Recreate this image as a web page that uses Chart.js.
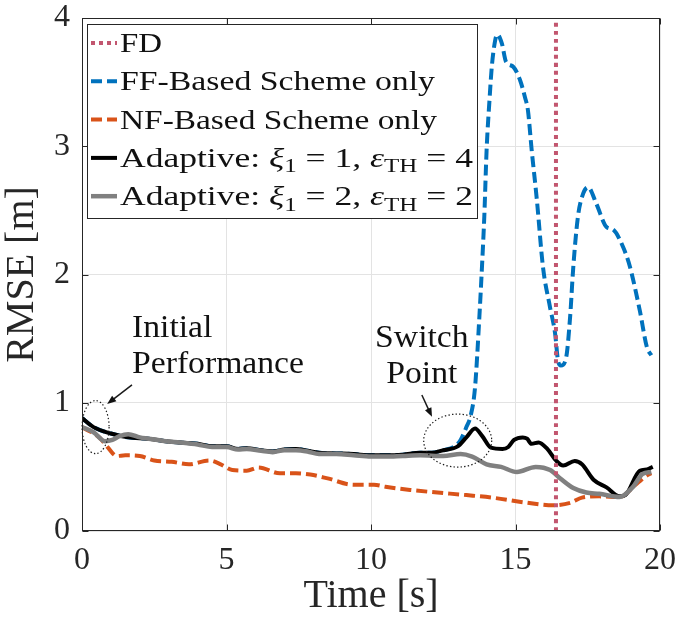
<!DOCTYPE html>
<html>
<head>
<meta charset="utf-8">
<script src="https://cdn.jsdelivr.net/npm/chart.js@4.4.1/dist/chart.umd.min.js"></script>
<style>
  body { margin: 0; background: #fff; }
  canvas { display: block; }
</style>
</head>
<body>
<canvas id="rmse" width="678" height="622"></canvas>
<script>
// values: time [s] and RMSE [m]
const fdTime = [16.4, 16.4];
const fdRmse = [0, 4];

const ffTime = [0, 0.4, 1.0, 1.6, 2.3, 2.9, 3.4, 4.0, 4.5, 5.0, 5.4, 5.7, 6.2, 6.6, 7.0, 7.4, 7.8, 8.2, 8.8, 9.4, 10.0, 10.5, 11.1, 11.7, 12.1, 12.5, 12.9, 13.1, 13.3, 13.45, 13.6, 13.75, 13.84, 13.92, 14.0, 14.1, 14.18, 14.3, 14.37, 14.53, 14.67, 14.92, 15.15, 15.33, 15.43, 15.56, 15.74, 15.95, 16.19, 16.37, 16.47, 16.57, 16.75, 16.89, 17.0, 17.16, 17.34, 17.51, 17.8, 18.15, 18.38, 18.73, 18.96, 19.3, 19.55, 19.7];
const ffRmse = [0.88, 0.81, 0.76, 0.73, 0.72, 0.70, 0.69, 0.68, 0.66, 0.66, 0.64, 0.645, 0.63, 0.62, 0.635, 0.64, 0.625, 0.61, 0.605, 0.60, 0.59, 0.59, 0.595, 0.61, 0.61, 0.63, 0.66, 0.71, 0.81, 0.90, 1.12, 1.67, 2.06, 2.45, 2.97, 3.36, 3.62, 3.83, 3.87, 3.80, 3.66, 3.62, 3.52, 3.38, 3.28, 2.97, 2.58, 2.06, 1.75, 1.54, 1.33, 1.29, 1.35, 1.67, 2.06, 2.45, 2.63, 2.68, 2.55, 2.37, 2.35, 2.21, 2.06, 1.72, 1.43, 1.37];

const nfTime = [0, 0.62, 0.9, 1.2, 1.5, 2.0, 2.5, 3.1, 3.7, 4.4, 4.8, 5.2, 5.7, 6.1, 6.85, 7.4, 7.9, 8.5, 9.4, 10.1, 10.5, 11.35, 12.3, 13.3, 14.2, 15.4, 16.3, 16.9, 17.3, 17.9, 18.6, 19.2, 19.6, 19.7];
const nfRmse = [0.81, 0.725, 0.65, 0.585, 0.59, 0.585, 0.55, 0.54, 0.52, 0.55, 0.52, 0.475, 0.47, 0.495, 0.45, 0.45, 0.44, 0.41, 0.36, 0.36, 0.345, 0.32, 0.30, 0.28, 0.26, 0.22, 0.20, 0.22, 0.26, 0.27, 0.265, 0.37, 0.44, 0.45];

const adapt1Time = [0, 0.4, 1.0, 1.6, 2.3, 2.9, 3.4, 4.0, 4.5, 5.0, 5.4, 5.7, 6.2, 6.6, 7.0, 7.4, 7.8, 8.2, 8.8, 9.4, 10.0, 10.5, 11.1, 11.7, 12.1, 12.5, 13.0, 13.3, 13.6, 13.85, 14.15, 14.55, 14.75, 14.95, 15.25, 15.4, 15.55, 15.8, 16.1, 16.4, 16.65, 17.05, 17.3, 17.7, 18.15, 18.6, 18.8, 19.3, 19.55, 19.75];
const adapt1Rmse = [0.88, 0.81, 0.76, 0.73, 0.72, 0.70, 0.69, 0.68, 0.66, 0.66, 0.64, 0.645, 0.63, 0.62, 0.635, 0.64, 0.625, 0.61, 0.605, 0.60, 0.59, 0.59, 0.595, 0.61, 0.61, 0.63, 0.66, 0.73, 0.80, 0.74, 0.65, 0.64, 0.655, 0.71, 0.73, 0.72, 0.68, 0.69, 0.64, 0.55, 0.51, 0.545, 0.52, 0.40, 0.34, 0.27, 0.28, 0.47, 0.48, 0.50];

const adapt2Time = [0, 0.4, 0.8, 1.05, 1.3, 1.6, 2.0, 2.3, 2.9, 3.4, 4.0, 4.5, 5.0, 5.4, 5.7, 6.2, 6.6, 7.0, 7.4, 7.8, 8.2, 8.8, 9.4, 10.0, 10.5, 11.1, 11.7, 12.5, 13.1, 13.5, 14.0, 14.5, 15.05, 15.7, 16.2, 16.55, 17.0, 17.45, 17.9, 18.6, 19.05, 19.4, 19.7];
const adapt2Rmse = [0.81, 0.77, 0.70, 0.71, 0.74, 0.755, 0.73, 0.72, 0.70, 0.69, 0.675, 0.655, 0.655, 0.635, 0.64, 0.625, 0.615, 0.63, 0.63, 0.62, 0.60, 0.60, 0.59, 0.58, 0.58, 0.585, 0.59, 0.585, 0.60, 0.58, 0.52, 0.50, 0.46, 0.50, 0.475, 0.41, 0.335, 0.30, 0.29, 0.265, 0.34, 0.445, 0.46];

const seriesLabels = ["FD", "FF-Based Scheme only", "NF-Based Scheme only",
  "Adaptive: ξ1 = 1, εTH = 4", "Adaptive: ξ1 = 2, εTH = 2"];
const xTicks = [0, 5, 10, 15, 20];
const yTicks = [0, 1, 2, 3, 4];

const SERIF = '"Liberation Serif", "Times New Roman", serif';
const INK = '#262626';

const pts = (ts, vs) => ts.map((t, i) => ({ x: t, y: vs[i] }));

// split a label into runs: greek letters italic, the following caps/digits as subscript
function richParts(label, size) {
  const parts = [];
  let i = 0;
  while (i < label.length) {
    const ch = label[i];
    if (ch === 'ξ' || ch === 'ε') {
      parts.push({ text: ch, font: `italic ${size}px ${SERIF}`, dy: 0 });
      let j = i + 1, sub = '';
      while (j < label.length && /[0-9A-Z]/.test(label[j])) sub += label[j++];
      if (sub) parts.push({ text: sub, font: `${Math.round(size * 0.7)}px ${SERIF}`, dy: size * 0.2 });
      i = j;
    } else {
      let j = i, run = '';
      while (j < label.length && label[j] !== 'ξ' && label[j] !== 'ε') run += label[j++];
      parts.push({ text: run, font: `${size}px ${SERIF}`, dy: 0 });
      i = j;
    }
  }
  return parts;
}

function partsWidth(ctx, parts) {
  let w = 0;
  parts.forEach(p => { ctx.font = p.font; w += ctx.measureText(p.text).width; });
  return w;
}

function drawStretched(ctx, parts, x, y, stretch, align) {
  ctx.save();
  const w = partsWidth(ctx, parts);
  ctx.translate(align === 'center' ? x - w * stretch / 2 : x, y);
  ctx.scale(stretch, 1);
  ctx.textBaseline = 'alphabetic';
  ctx.textAlign = 'left';
  let cx = 0;
  parts.forEach(p => {
    ctx.font = p.font;
    ctx.fillText(p.text, cx, p.dy);
    cx += ctx.measureText(p.text).width;
  });
  ctx.restore();
}

function stretchFor(ctx, text, size, target) {
  ctx.font = `${size}px ${SERIF}`;
  return target / ctx.measureText(text).width;
}

function arrow(ctx, x0, y0, x1, y1) {
  const ang = Math.atan2(y1 - y0, x1 - x0);
  const L = 9, W = 3.5;
  ctx.beginPath();
  ctx.moveTo(x0, y0);
  ctx.lineTo(x1 - Math.cos(ang) * L * 0.8, y1 - Math.sin(ang) * L * 0.8);
  ctx.stroke();
  ctx.beginPath();
  ctx.moveTo(x1, y1);
  ctx.lineTo(x1 - L * Math.cos(ang) + W * Math.sin(ang), y1 - L * Math.sin(ang) - W * Math.cos(ang));
  ctx.lineTo(x1 - L * Math.cos(ang) - W * Math.sin(ang), y1 - L * Math.sin(ang) + W * Math.cos(ang));
  ctx.closePath();
  ctx.fill();
}

const framePlugin = {
  id: 'frame',
  afterDatasetsDraw(chart) {
    const { ctx, chartArea: a, scales: { x, y } } = chart;
    ctx.save();
    // annotations
    ctx.strokeStyle = '#1a1a1a';
    ctx.fillStyle = '#111';
    ctx.lineWidth = 1.2;
    ctx.setLineDash([1.4, 2.2]);
    ctx.beginPath();
    ctx.ellipse(x.getPixelForValue(0.47), y.getPixelForValue(0.81), 13.5, 26.5, 0, 0, Math.PI * 2);
    ctx.stroke();
    ctx.beginPath();
    ctx.ellipse(x.getPixelForValue(13.0), y.getPixelForValue(0.705), 34, 26.5, 0, 0, Math.PI * 2);
    ctx.stroke();
    ctx.setLineDash([]);
    ctx.lineWidth = 1.5;
    arrow(ctx, x.getPixelForValue(1.73), y.getPixelForValue(1.14), x.getPixelForValue(0.87), y.getPixelForValue(0.99));
    arrow(ctx, x.getPixelForValue(11.76), y.getPixelForValue(1.06), x.getPixelForValue(12.11), y.getPixelForValue(0.89));

    ctx.fillStyle = '#111';
    const s = stretchFor(ctx, 'Performance', 31, 172);
    drawStretched(ctx, [{ text: 'Initial', font: `31px ${SERIF}`, dy: 0 }], x.getPixelForValue(1.73), y.getPixelForValue(1.512), s);
    drawStretched(ctx, [{ text: 'Performance', font: `31px ${SERIF}`, dy: 0 }], x.getPixelForValue(1.73), y.getPixelForValue(1.231), s);
    drawStretched(ctx, [{ text: 'Switch', font: `31px ${SERIF}`, dy: 0 }], x.getPixelForValue(11.76), y.getPixelForValue(1.434), s, 'center');
    drawStretched(ctx, [{ text: 'Point', font: `31px ${SERIF}`, dy: 0 }], x.getPixelForValue(11.76), y.getPixelForValue(1.154), s, 'center');

    // axes box with inward ticks
    ctx.strokeStyle = INK;
    ctx.lineWidth = 1;
    const L = Math.round(a.left) + 0.5, R = Math.round(a.right) - 0.5;
    const T = Math.round(a.top) + 0.5, B = Math.round(a.bottom) - 0.5;
    ctx.strokeRect(L, T, R - L, B - T);
    ctx.beginPath();
    xTicks.forEach(v => {
      const px = Math.round(x.getPixelForValue(v)) + 0.5;
      ctx.moveTo(px, B); ctx.lineTo(px, B - 6);
      ctx.moveTo(px, T); ctx.lineTo(px, T + 6);
    });
    yTicks.forEach(v => {
      const py = Math.round(y.getPixelForValue(v)) + 0.5;
      ctx.moveTo(L, py); ctx.lineTo(L + 6, py);
      ctx.moveTo(R, py); ctx.lineTo(R - 6, py);
    });
    ctx.stroke();
    ctx.restore();
  },
  afterDraw(chart) {
    const { ctx, chartArea: a } = chart;
    const left = a.left + 5, top = a.top + 6, w = 390, h = 194;
    const rowWidths = [42, 315, 317, 353, 353];
    ctx.save();
    ctx.fillStyle = '#fff';
    ctx.fillRect(left, top, w, h);
    ctx.strokeStyle = INK;
    ctx.lineWidth = 1;
    ctx.strokeRect(Math.round(left) + 0.5, Math.round(top) + 0.5, w, h);
    const size = 27;
    chart.data.datasets.forEach((ds, i) => {
      const base = top + 28 + i * 38.3;
      ctx.strokeStyle = ds.borderColor;
      ctx.lineWidth = ds.borderWidth;
      ctx.setLineDash(ds.borderDash || []);
      ctx.beginPath();
      ctx.moveTo(left + 4, base - 9);
      ctx.lineTo(left + 30, base - 9);
      ctx.stroke();
      ctx.setLineDash([]);
      ctx.fillStyle = '#111';
      const parts = richParts(ds.label, size);
      const stretch = rowWidths[i] / partsWidth(ctx, parts);
      drawStretched(ctx, parts, left + 33, base, stretch);
    });
    ctx.restore();
  }
};

const line = (label, data, color, width, dash, order) => ({
  label, data, borderColor: color, borderWidth: width, borderDash: dash,
  borderCapStyle: 'butt', pointRadius: 0, cubicInterpolationMode: 'monotone',
  fill: false, order
});

new Chart(document.getElementById('rmse'), {
  type: 'line',
  data: {
    datasets: [
      line(seriesLabels[0], pts(fdTime, fdRmse), '#C2566F', 4, [4, 4], 0),
      line(seriesLabels[1], pts(ffTime, ffRmse), '#0072BD', 4, [11, 5], 4),
      line(seriesLabels[2], pts(nfTime, nfRmse), '#D95319', 4, [11, 5], 3),
      line(seriesLabels[3], pts(adapt1Time, adapt1Rmse), '#000000', 4, [], 2),
      line(seriesLabels[4], pts(adapt2Time, adapt2Rmse), '#808080', 4.5, [], 1)
    ]
  },
  options: {
    responsive: false,
    animation: false,
    devicePixelRatio: 1,
    layout: { padding: { top: 18, right: 18, left: 0, bottom: 0 } },
    plugins: { legend: { display: false }, tooltip: { enabled: false } },
    scales: {
      x: {
        type: 'linear', min: 0, max: 20,
        afterBuildTicks: s => { s.ticks = xTicks.map(v => ({ value: v })); },
        afterFit: s => { s.height = 91; s.paddingLeft = 0; s.paddingRight = 0; },
        grid: { color: '#e3e3e3', drawTicks: false },
        border: { display: false },
        ticks: { color: INK, padding: 14, font: { family: SERIF, size: 32, lineHeight: 1 } },
        title: { display: true, text: 'Time [s]', color: INK, padding: { top: 0, bottom: 4 },
          font: { family: SERIF, size: 40, lineHeight: 1.1 } }
      },
      y: {
        type: 'linear', min: 0, max: 4,
        afterBuildTicks: s => { s.ticks = yTicks.map(v => ({ value: v })); },
        afterFit: s => { s.width = 82; s.paddingTop = 0; s.paddingBottom = 0; },
        grid: { color: '#e3e3e3', drawTicks: false },
        border: { display: false },
        ticks: { color: INK, padding: 12, font: { family: SERIF, size: 32, lineHeight: 1 } },
        title: { display: true, text: 'RMSE [m]', color: INK, padding: 0,
          font: { family: SERIF, size: 40, lineHeight: 1.1 } }
      }
    }
  },
  plugins: [framePlugin]
});
</script>
</body>
</html>
